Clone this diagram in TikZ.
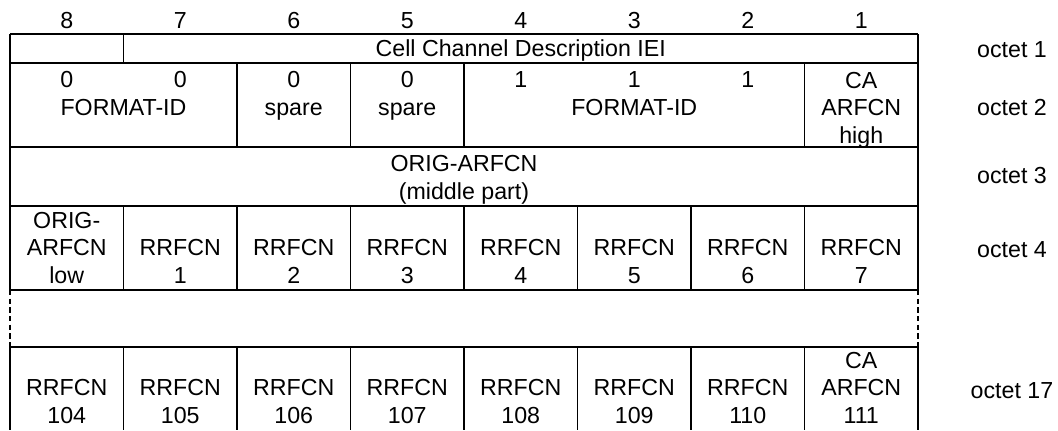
\documentclass[tikz,border=0pt]{standalone}
\usepackage{fontspec}
\setmainfont{Liberation Sans}

\tikzset{every picture/.style={line width=1.4pt}}
\tikzset{cell/.style={anchor=base,inner sep=0pt,align=center,font=\fontsize{17.4}{20.5}\selectfont}}
\tikzset{gap/.style={dash pattern=on 4pt off 2.5pt}}

\begin{document}
\begin{tikzpicture}[x=0.75pt,y=0.75pt,yscale=-1,xscale=1]
\useasboundingbox (0,0) rectangle (1058,430);

%Straight Lines: horizontal rules
\draw    (10,34) -- (918,34) ;
\draw    (10,63) -- (918,63) ;
\draw    (10,147) -- (918,147) ;
\draw    (10,206) -- (918,206) ;
\draw    (10,290) -- (918,290) ;
\draw    (10,347) -- (918,347) ;
%Straight Lines: outer edges
\draw    (10,34) -- (10,290) ;
\draw    (918,34) -- (918,290) ;
\draw    (10,347) -- (10,430) ;
\draw    (918,347) -- (918,430) ;
%Dashed Lines: gap row
\draw [gap]   (10,290) -- (10,347) ;
\draw [gap]   (918,290) -- (918,347) ;
%Straight Lines: octet 1
\draw    (123.5,34) -- (123.5,63) ;
%Straight Lines: octet 2
\foreach \x in {237,350.5,464,804.5} \draw (\x,63) -- (\x,147) ;
%Straight Lines: octet 4 and octet 17
\foreach \i in {1,...,7} {
  \draw ({10+113.5*\i},206) -- ({10+113.5*\i},290) ;
  \draw ({10+113.5*\i},347) -- ({10+113.5*\i},430) ;
}

% Text Node: bit numbers
\foreach \b [count=\i from 0] in {8,...,1}
  \node [cell] (bit\b) at ({66.75+113.5*\i},28) {\b};

% Text Node: octet 1
\node [cell] (iei) at (520.75,56) {Cell Channel Description IEI};
% Text Node: octet 2
\node [cell] (f8) at (66.75,87) {0};
\node [cell] (f7) at (180.25,87) {0};
\node [cell] (fmtA) at (123.5,115) {FORMAT-ID};
\node [cell] (sp6) at (293.75,115) {0\\spare};
\node [cell] (sp5) at (407.25,115) {0\\spare};
\node [cell] (f4) at (520.75,87) {1};
\node [cell] (f3) at (634.25,87) {1};
\node [cell] (f2) at (747.75,87) {1};
\node [cell] (fmtB) at (634.25,115) {FORMAT-ID};
\node [cell] (cahigh) at (861.25,143) {CA\\ARFCN\\high};
% Text Node: octet 3
\node [cell] (origmid) at (464,199) {ORIG-ARFCN\\(middle part)};
% Text Node: octet 4
\node [cell] (origlow) at (66.75,283) {ORIG-\\ARFCN\\low};
\foreach \n [count=\i from 1] in {1,...,7}
  \node [cell] (rr\n) at ({66.75+113.5*\i},283) {RRFCN\\\n};
% Text Node: octet 17
\foreach \n [count=\i from 0] in {104,...,110}
  \node [cell] (rr\n) at ({66.75+113.5*\i},423) {RRFCN\\\n};
\node [cell] (ca111) at (861.25,423) {CA\\ARFCN\\111};

% Text Node: octet labels
\node [cell] (oct1) at (1012,57) {octet 1};
\node [cell] (oct2) at (1012,115) {octet 2};
\node [cell] (oct3) at (1012,183) {octet 3};
\node [cell] (oct4) at (1012,257) {octet 4};
\node [cell] (oct17) at (1012,398) {octet 17};

\end{tikzpicture}
\end{document}
